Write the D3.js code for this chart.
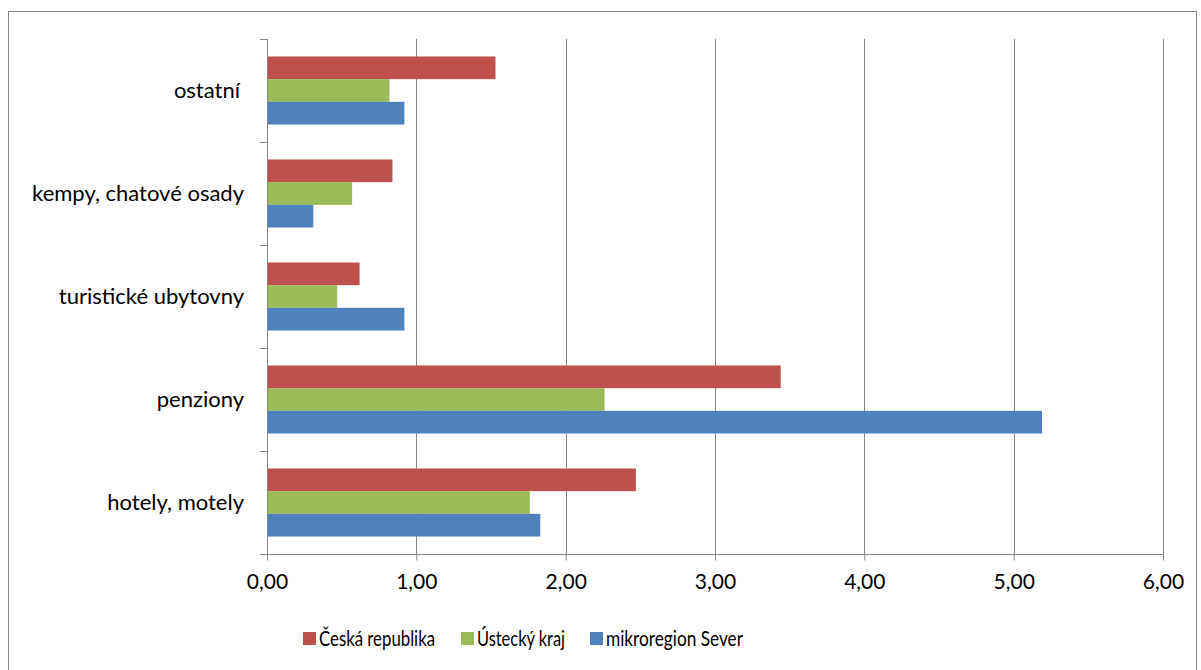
<!DOCTYPE html>
<html>
<head>
<meta charset="utf-8">
<script src="https://cdn.jsdelivr.net/npm/d3@7"></script>
<style>
  body { margin: 0; background: #fff; }
  text { font-family: Lato, sans-serif; fill: #000; }
</style>
</head>
<body>
<div id="chart"></div>
<script>
// categories top to bottom
const categories = ["ostatní", "kempy, chatové osady", "turistické ubytovny", "penziony", "hotely, motely"];
const seriesNames = ["Česká republika", "Ústecký kraj", "mikroregion Sever"];
const seriesColors = ["#C0504D", "#9BBB59", "#4F81BD"];
const ceskaRepublika = [1.53, 0.84, 0.62, 3.44, 2.47];
const ustecky = [0.82, 0.57, 0.47, 2.26, 1.76];
const sever = [0.92, 0.31, 0.92, 5.19, 1.83];
const xTicks = [0, 1, 2, 3, 4, 5, 6];

const width = 1201, height = 670;
const margin = {top: 39, right: 38, bottom: 116, left: 267};

const svg = d3.select("#chart")
    .append("svg")
    .attr("width", width)
    .attr("height", height);

// outer frame
svg.append("rect")
    .attr("x", 8.5).attr("y", 11.5)
    .attr("width", 1188).attr("height", 670)
    .attr("fill", "none")
    .attr("stroke", "#878787");

let xScale = d3.scaleLinear()
    .domain([0, 6])
    .range([margin.left, width - margin.right]);

let yScale = d3.scaleBand()
    .domain(categories)
    .range([margin.top, height - margin.bottom]);

let inner = d3.scaleBand()
    .domain(d3.range(3))
    .range([0, yScale.bandwidth()])
    .paddingOuter(0.77)
    .paddingInner(0);

// gridlines
svg.append("g")
    .selectAll("line")
    .data(xTicks.slice(1))
    .enter()
    .append("line")
    .attr("x1", d => Math.round(xScale(d)) + 0.5)
    .attr("x2", d => Math.round(xScale(d)) + 0.5)
    .attr("y1", margin.top)
    .attr("y2", height - margin.bottom)
    .attr("stroke", "#868686");

const series = [ceskaRepublika, ustecky, sever];

// bars
series.forEach((vals, s) => {
    svg.append("g")
        .selectAll("rect")
        .data(vals)
        .enter()
        .append("rect")
        .attr("x", xScale(0))
        .attr("y", (d, i) => yScale(categories[i]) + inner(s))
        .attr("width", d => xScale(d) - xScale(0))
        .attr("height", inner.bandwidth())
        .attr("fill", seriesColors[s]);
});

// x axis
svg.append("g")
    .attr("transform", `translate(0,${Math.round(height - margin.bottom) + 0.5})`)
    .call(d3.axisBottom(xScale)
        .tickValues(xTicks)
        .tickSize(6)
        .tickPadding(14)
        .tickFormat(d => d3.format(".2f")(d).replace(".", ",")))
    .call(g => g.select(".domain").attr("stroke", "#868686").attr("d", `M${margin.left},0H${width - margin.right}`))
    .call(g => g.selectAll(".tick line").attr("stroke", "#868686"))
    .call(g => g.selectAll(".tick text").attr("font-size", "21px").attr("font-family", "Lato"));

// y axis
const yTickPos = categories.map(c => yScale(c)).concat([height - margin.bottom]);
svg.append("line")
    .attr("x1", margin.left + 0.5).attr("x2", margin.left + 0.5)
    .attr("y1", margin.top).attr("y2", height - margin.bottom)
    .attr("stroke", "#868686");
svg.append("g")
    .selectAll("line")
    .data(yTickPos)
    .enter()
    .append("line")
    .attr("x1", margin.left - 7)
    .attr("x2", margin.left)
    .attr("y1", d => Math.round(d) + 0.5)
    .attr("y2", d => Math.round(d) + 0.5)
    .attr("stroke", "#868686");

svg.append("g")
    .selectAll("text")
    .data(categories)
    .enter()
    .append("text")
    .attr("x", (d, i) => i === 0 ? 240 : 244)
    .attr("y", d => yScale(d) + yScale.bandwidth() / 2)
    .attr("dy", "0.35em")
    .attr("text-anchor", "end")
    .attr("font-size", "22px")
    .text(d => d);

// legend
const legendX = [303, 461, 590];
const legendW = [116, 88, 137];
const legend = svg.append("g");
seriesNames.forEach((name, i) => {
    legend.append("rect")
        .attr("x", legendX[i])
        .attr("y", 632)
        .attr("width", 13)
        .attr("height", 13)
        .attr("fill", seriesColors[i]);
    legend.append("text")
        .attr("x", legendX[i] + 16)
        .attr("y", 638)
        .attr("dy", "0.35em")
        .attr("font-size", "22px")
        .attr("textLength", legendW[i])
        .attr("lengthAdjust", "spacingAndGlyphs")
        .text(name);
});
</script>
</body>
</html>
